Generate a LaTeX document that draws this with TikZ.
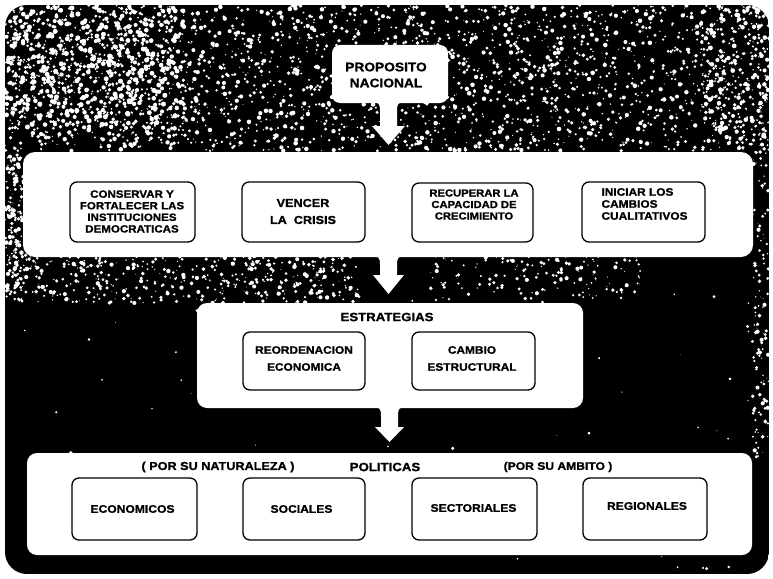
\documentclass[tikz,border=0pt]{standalone}
\usepackage{fontspec}
\newfontfamily\hv{Liberation Sans Bold}[FakeStretch=1.1,FakeBold=1.2]
\newcommand\darrowshape[5]{%
  \fill[white] (#1-16.5,#2-1) .. controls (#1-9.5,#2-1) and (#1-8.5,#2+1) .. (#1-8.5,#2+8)
    -- (#1-8.5,#3) -- (#1-#5,#3) -- (#1,#4) -- (#1+#5,#3) -- (#1+8.5,#3) -- (#1+8.5,#2+8)
    .. controls (#1+8.5,#2+1) and (#1+9.5,#2-1) .. (#1+16.5,#2-1) -- cycle;}
\newcommand\speckle[6]{% count, x0, width, y0, height, rmin
  \foreach \i in {1,...,#1}{%
    \pgfmathsetmacro\xx{#2+#3*rnd}%
    \pgfmathsetmacro\yy{#4+#5*rnd}%
    \pgfmathsetmacro\rr{#6+1.8*rnd}%
    \fill[white] (\xx,\yy) circle[radius=\rr pt];
  }}
\tikzset{
  panel/.style={fill=white, rounded corners=12pt, inner sep=0pt},
  item/.style={draw=black, line width=1.3pt, fill=white, rounded corners=7pt, inner sep=0pt},
  lbl/.style 2 args={font=\hv\fontsize{#1}{#2}\selectfont, align=center, inner sep=0pt, text=black},
}
\begin{document}
\begin{tikzpicture}[x=1pt,y=-1pt]
\fill[white] (0,0) rectangle (773,578);
\useasboundingbox (0,0) rectangle (773,578);
\pgfmathsetseed{7}
\begin{scope}
  \clip[rounded corners=22pt] (5,5) rectangle (769,574);
  \fill[black] (5,5) rectangle (769,574);
  \speckle{2300}{5}{764}{5}{146}{0.5}
  \speckle{700}{5}{180}{5}{125}{0.8}
  \speckle{250}{700}{69}{5}{145}{0.6}
  \speckle{150}{5}{19}{150}{150}{0.5}
  \speckle{450}{5}{355}{255}{48}{0.4}
  \speckle{150}{430}{210}{255}{45}{0.3}
  \speckle{120}{752}{17}{150}{310}{0.3}
  \speckle{120}{5}{764}{150}{420}{0.1}
\end{scope}

% panels
\node[panel, rounded corners=8pt, minimum width=116pt, minimum height=58pt] (p0) at (390,74) {};
\node[panel, minimum width=730pt, minimum height=105pt] (p1) at (388,204.5) {};
\node[panel, rounded corners=10pt, minimum width=386pt, minimum height=105pt] (p2) at (390,355.5) {};
\node[panel, rounded corners=10pt, minimum width=725pt, minimum height=102pt] (p3) at (389.5,504) {};

% arrows
\darrowshape{388.5}{103}{126}{145}{16.5}
\darrowshape{388.5}{257}{275}{294}{15.5}
\darrowshape{389.5}{408}{427}{442}{14.5}

% inner boxes
\node[item, minimum width=125pt, minimum height=60pt] (b11) at (132.5,212) {};
\node[item, minimum width=123pt, minimum height=60pt] (b12) at (303.5,212) {};
\node[item, minimum width=121pt, minimum height=59pt] (b13) at (472.5,212.5) {};
\node[item, minimum width=123pt, minimum height=60pt] (b14) at (643.5,212) {};
\node[item, minimum width=122pt, minimum height=58pt] (b21) at (304,361) {};
\node[item, minimum width=123pt, minimum height=58pt] (b22) at (473.5,361) {};
\node[item, minimum width=125pt, minimum height=62pt] (b31) at (134.5,509) {};
\node[item, minimum width=122pt, minimum height=62pt] (b32) at (304,509) {};
\node[item, minimum width=125pt, minimum height=62pt] (b33) at (474.5,509) {};
\node[item, minimum width=124pt, minimum height=62pt] (b34) at (645,509) {};

% texts
\node[lbl={12.5}{16}] (t0) at (386,75) {PROPOSITO\\NACIONAL};
\node[lbl={10.5}{11.6}] (t11) at (132,211.5) {CONSERVAR Y\\FORTALECER LAS\\INSTITUCIONES\\DEMOCRATICAS};
\node[lbl={11.5}{17}] (t12) at (303,211.5) {VENCER\\LA\ \ CRISIS};
\node[lbl={10.2}{11.5}] (t13) at (474,204.5) {RECUPERAR LA\\CAPACIDAD DE\\CRECIMIENTO};
\node[lbl={10.8}{12}, align=left] (t14) at (644.5,204) {INICIAR LOS\\CAMBIOS\\CUALITATIVOS};
\node[lbl={12}{14}] (t2) at (387,317) {ESTRATEGIAS};
\node[lbl={10.8}{17}] (t21) at (304,358.5) {REORDENACION\\ECONOMICA};
\node[lbl={10.8}{17}] (t22) at (472,358.5) {CAMBIO\\ESTRUCTURAL};
\node[lbl={11.5}{14}] (t3a) at (218,467) {( POR SU NATURALEZA )};
\node[lbl={12}{14}] (t3) at (385,467) {POLITICAS};
\node[lbl={11}{14}] (t3b) at (558,467) {(POR SU AMBITO )};
\node[lbl={11}{14}] (t31) at (132.5,509) {ECONOMICOS};
\node[lbl={11}{14}] (t32) at (301.5,509) {SOCIALES};
\node[lbl={11}{14}] (t33) at (473.5,508) {SECTORIALES};
\node[lbl={11}{14}] (t34) at (647,506) {REGIONALES};
\end{tikzpicture}
\end{document}
